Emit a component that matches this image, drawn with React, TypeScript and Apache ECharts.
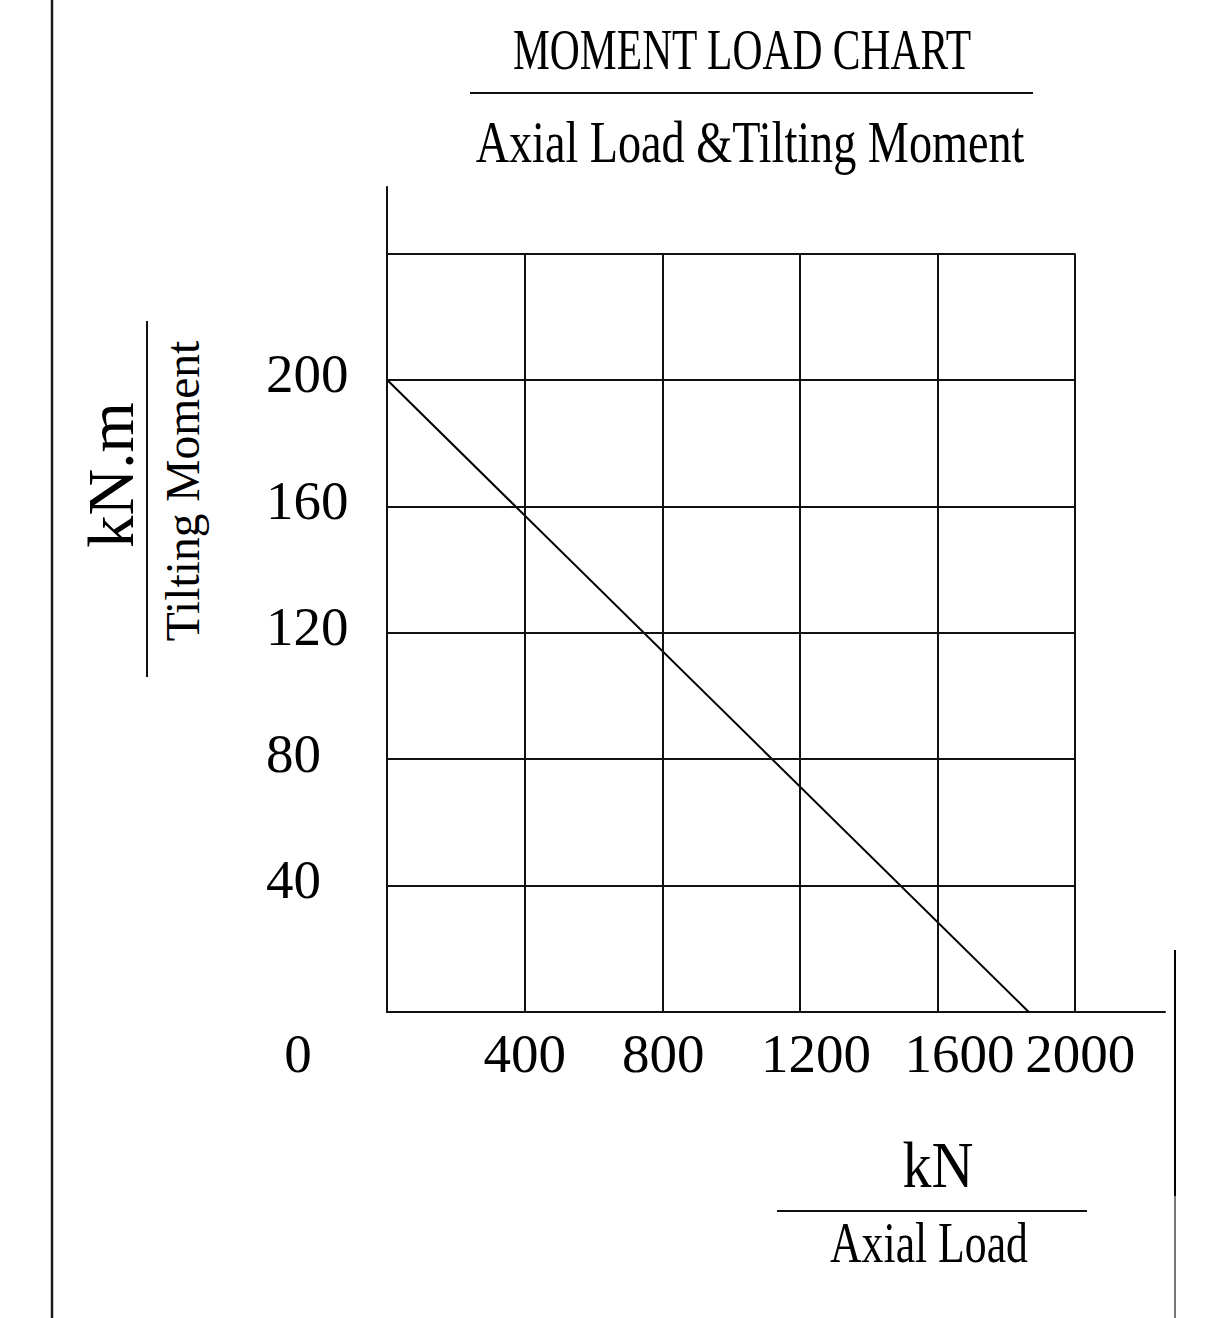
import React, { useEffect, useRef } from "react";
import * as echarts from "echarts";

// ---- data ----
const xTickLabels = [0, 400, 800, 1200, 1600, 2000];
const yTickLabels = [40, 80, 120, 160, 200];
const gridX = [400, 800, 1200, 1600, 2000];
const gridY = [40, 80, 120, 160, 200, 240];
const axialLoad = [0, 1865];
const tiltingMoment = [200, 0];

const FONT = "'Liberation Serif', 'Times New Roman', serif";

// label horizontal nudges (style only)
const xLabelShift: Record<number, number> = { 0: -89, 400: 0, 800: 1, 1200: 16, 1600: 22, 2000: 5 };

export default function App() {
  const ref = useRef<HTMLDivElement>(null);

  useEffect(() => {
    if (!ref.current) return;
    const chart = echarts.init(ref.current, null, { renderer: "svg" });

    const rich: Record<string, any> = {};
    xTickLabels.forEach((v) => {
      const s = xLabelShift[v] || 0;
      rich["l" + v] = {
        fontSize: 55,
        fontFamily: FONT,
        color: "#000",
        padding: s >= 0 ? [0, 0, 0, 2 * s] : [0, -2 * s, 0, 0],
      };
    });

    const markData: any[] = [];
    gridX.forEach((x) => markData.push([{ coord: [x, 0] }, { coord: [x, 240] }]));
    gridY.forEach((y) => markData.push([{ coord: [0, y] }, { coord: [2000, y] }]));

    const option: any = {
      animation: false,
      backgroundColor: "#ffffff",
      grid: { left: 387, top: 187, width: 778, height: 825, containLabel: false },
      xAxis: {
        type: "value",
        min: 0,
        max: 2261,
        interval: 400,
        axisLine: { show: true, onZero: false, lineStyle: { color: "#111", width: 2 } },
        axisTick: { show: false },
        splitLine: { show: false },
        axisLabel: {
          show: true,
          margin: 41,
          verticalAlign: "middle",
          fontSize: 55,
          fontFamily: FONT,
          color: "#000",
          rich,
          formatter: (v: number) => (xTickLabels.indexOf(v) >= 0 ? `{l${v}|${v}}` : ""),
        },
      },
      yAxis: {
        type: "value",
        min: 0,
        max: 261,
        interval: 40,
        axisLine: { show: true, onZero: false, lineStyle: { color: "#111", width: 2 } },
        axisTick: { show: false },
        splitLine: { show: false },
        axisLabel: {
          show: true,
          margin: 121,
          align: "left",
          verticalAlign: "middle",
          fontSize: 55,
          fontFamily: FONT,
          color: "#000",
          rich: {
            y: { fontSize: 55, fontFamily: FONT, color: "#000", padding: [0, 0, 12, 0] },
          },
          formatter: (v: number) => (yTickLabels.indexOf(v) >= 0 ? `{y|${v}}` : ""),
        },
      },
      series: [
        {
          type: "line",
          data: axialLoad.map((x, i) => [x, tiltingMoment[i]]),
          symbol: "none",
          lineStyle: { color: "#000", width: 2 },
          markLine: {
            silent: true,
            symbol: ["none", "none"],
            label: { show: false },
            lineStyle: { type: "solid", color: "#111", width: 2 },
            data: markData,
          },
          z: 3,
        },
      ],
      graphic: [
        { type: "line", shape: { x1: 52, y1: 0, x2: 52, y2: 1318 }, style: { stroke: "#1a1a1a", lineWidth: 2.5 } },
        { type: "line", shape: { x1: 1175, y1: 950, x2: 1175, y2: 1196 }, style: { stroke: "#000", lineWidth: 2 } },
        { type: "line", shape: { x1: 1175, y1: 1196, x2: 1175, y2: 1318 }, style: { stroke: "#777", lineWidth: 2 } },
        {
          type: "text",
          x: 742,
          y: 49,
          scaleX: 0.716,
          style: { text: "MOMENT LOAD CHART", fontSize: 58, fontFamily: FONT, fill: "#000", align: "center", verticalAlign: "middle", textAlign: "center", textVerticalAlign: "middle" },
        },
        { type: "line", shape: { x1: 470, y1: 93, x2: 1033, y2: 93 }, style: { stroke: "#111", lineWidth: 2 } },
        {
          type: "text",
          x: 750,
          y: 142,
          scaleX: 0.77,
          style: { text: "Axial Load &Tilting Moment", fontSize: 60, fontFamily: FONT, fill: "#000", align: "center", verticalAlign: "middle", textAlign: "center", textVerticalAlign: "middle" },
        },
        {
          type: "text",
          x: 111,
          y: 475,
          rotation: Math.PI / 2,
          scaleX: 0.98,
          style: { text: "kN.m", fontSize: 66, fontFamily: FONT, fill: "#000", align: "center", verticalAlign: "middle", textAlign: "center", textVerticalAlign: "middle" },
        },
        { type: "line", shape: { x1: 147, y1: 321, x2: 147, y2: 677 }, style: { stroke: "#111", lineWidth: 2 } },
        {
          type: "text",
          x: 182,
          y: 491,
          rotation: Math.PI / 2,
          scaleX: 0.99,
          style: { text: "Tilting Moment", fontSize: 48, fontFamily: FONT, fill: "#000", align: "center", verticalAlign: "middle", textAlign: "center", textVerticalAlign: "middle" },
        },
        {
          type: "text",
          x: 938,
          y: 1165,
          scaleX: 0.88,
          style: { text: "kN", fontSize: 66, fontFamily: FONT, fill: "#000", align: "center", verticalAlign: "middle", textAlign: "center", textVerticalAlign: "middle" },
        },
        { type: "line", shape: { x1: 777, y1: 1211, x2: 1087, y2: 1211 }, style: { stroke: "#111", lineWidth: 2 } },
        {
          type: "text",
          x: 929,
          y: 1242,
          scaleX: 0.754,
          style: { text: "Axial Load", fontSize: 58, fontFamily: FONT, fill: "#000", align: "center", verticalAlign: "middle", textAlign: "center", textVerticalAlign: "middle" },
        },
      ],
    };

    chart.setOption(option);
    return () => chart.dispose();
  }, []);

  return (
    <div
      ref={ref}
      style={{ position: "absolute", left: 0, top: 0, width: 1222, height: 1318 }}
    />
  );
}
